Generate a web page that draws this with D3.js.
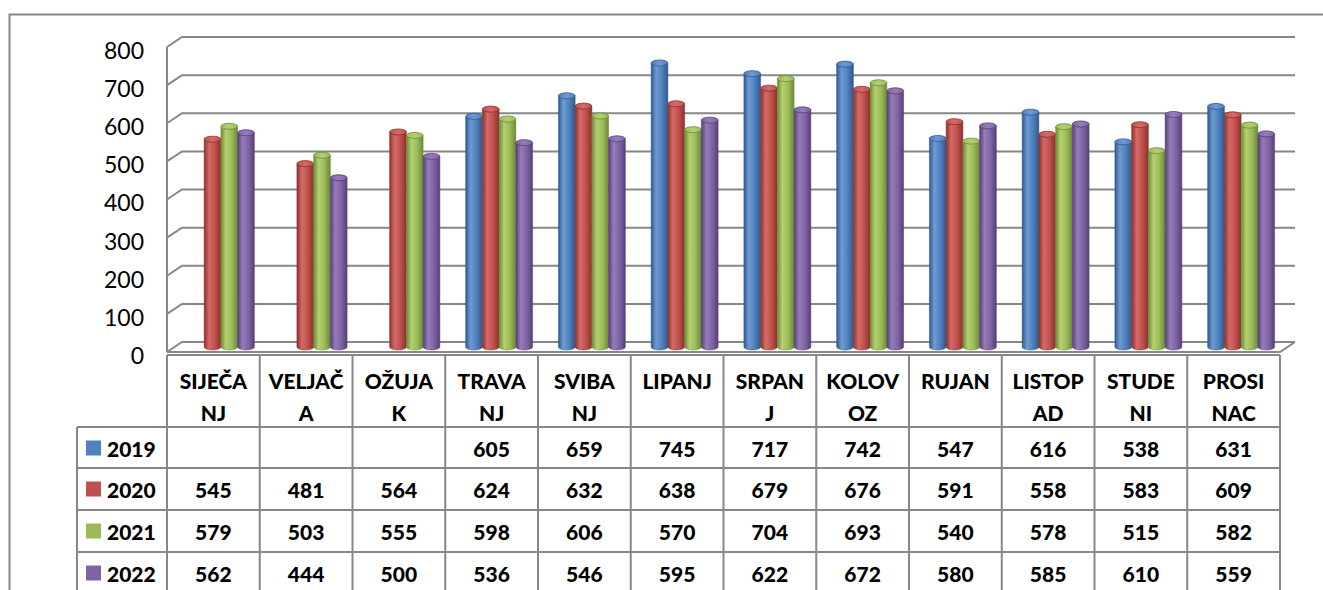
<!DOCTYPE html>
<html>
<head>
<meta charset="utf-8">
<script src="https://cdn.jsdelivr.net/npm/d3@7"></script>
<style>
  body { margin: 0; background: #fff; }
  svg { display: block; font-family: Lato, "Open Sans", sans-serif; }
</style>
</head>
<body>
<div id="chart"></div>
<script>
// podaci
const months = ["SIJEČANJ", "VELJAČA", "OŽUJAK", "TRAVANJ", "SVIBANJ", "LIPANJ",
                "SRPANJ", "KOLOVOZ", "RUJAN", "LISTOPAD", "STUDENI", "PROSINAC"];
const monthLines = [["SIJEČA", "NJ"], ["VELJAČ", "A"], ["OŽUJA", "K"], ["TRAVA", "NJ"],
                    ["SVIBA", "NJ"], ["LIPANJ", ""], ["SRPAN", "J"], ["KOLOV", "OZ"],
                    ["RUJAN", ""], ["LISTOP", "AD"], ["STUDE", "NI"], ["PROSI", "NAC"]];
const years = ["2019", "2020", "2021", "2022"];
const v2019 = [null, null, null, 605, 659, 745, 717, 742, 547, 616, 538, 631];
const v2020 = [545, 481, 564, 624, 632, 638, 679, 676, 591, 558, 583, 609];
const v2021 = [579, 503, 555, 598, 606, 570, 704, 693, 540, 578, 515, 582];
const v2022 = [562, 444, 500, 536, 546, 595, 622, 672, 580, 585, 610, 559];
const yTicks = [0, 100, 200, 300, 400, 500, 600, 700, 800];

const series = [v2019, v2020, v2021, v2022];
const colors = [
  { base: "#4F81BD", light: "#6f9ad3", dark: "#2e5a8e" },
  { base: "#C0504D", light: "#d46b67", dark: "#8c302d" },
  { base: "#9BBB59", light: "#b3d072", dark: "#6c8a35" },
  { base: "#8064A2", light: "#977cba", dark: "#573f78" }
];

const width = 1323, height = 590;
const gridColor = "#878787";
const dx = 15, dy = -10; // dubina 3D zida

const svg = d3.select("#chart").append("svg")
  .attr("width", width)
  .attr("height", height);

// okvir grafikona
svg.append("rect")
  .attr("x", 9.5).attr("y", 14.5)
  .attr("width", 1330).attr("height", 600)
  .attr("fill", "none")
  .attr("stroke", gridColor)
  .attr("stroke-width", 2);

const x = d3.scaleBand().domain(months).range([167, 1280]);
const y = d3.scaleLinear().domain([0, 800]).range([352, 47]);
const xs = d3.scaleBand().domain(years).range([0, x.bandwidth()]).paddingOuter(0.77);

// gradijenti za valjke
const defs = svg.append("defs");
colors.forEach((c, i) => {
  const g = defs.append("linearGradient").attr("id", "body" + i)
    .attr("x1", 0).attr("x2", 1).attr("y1", 0).attr("y2", 0);
  g.append("stop").attr("offset", "0%").attr("stop-color", c.dark);
  g.append("stop").attr("offset", "30%").attr("stop-color", c.light);
  g.append("stop").attr("offset", "65%").attr("stop-color", c.base);
  g.append("stop").attr("offset", "100%").attr("stop-color", c.dark);
  const t = defs.append("linearGradient").attr("id", "cap" + i)
    .attr("x1", 0).attr("x2", 1).attr("y1", 0).attr("y2", 0);
  t.append("stop").attr("offset", "0%").attr("stop-color", c.base);
  t.append("stop").attr("offset", "50%").attr("stop-color", c.light);
  t.append("stop").attr("offset", "100%").attr("stop-color", c.base);
});

// mreža (stražnji i lijevi zid)
const grid = svg.append("g").attr("fill", "none")
  .attr("stroke", gridColor).attr("stroke-width", 2);
grid.selectAll("path.gl")
  .data(yTicks)
  .enter().append("path")
  .attr("class", "gl")
  .attr("d", t => `M${x.range()[0]},${y(t)}L${x.range()[0] + dx},${y(t) + dy}L${x.range()[1] + dx},${y(t) + dy}`);
grid.append("line")
  .attr("x1", x.range()[0]).attr("x2", x.range()[0])
  .attr("y1", y(800)).attr("y2", y(0));
grid.append("path")
  .attr("d", `M${x.range()[1] + dx},${y(0) + dy}L${x.range()[1]},${y(0)}L${x.range()[0]},${y(0)}`);

// os Y
const yAxis = svg.append("g")
  .attr("transform", "translate(144,4)")
  .call(d3.axisLeft(y).tickValues(yTicks).tickSize(0).tickPadding(0));
yAxis.select(".domain").remove();
yAxis.selectAll("text")
  .attr("font-family", "Lato, 'Open Sans', sans-serif")
  .attr("font-size", 23)
  .attr("fill", "#000");

// valjci
const ry = 3;
const bars = [];
series.forEach((vals, si) => {
  vals.forEach((v, mi) => {
    if (v != null) bars.push({ si, mi, v });
  });
});
const barG = svg.append("g");
const cyl = barG.selectAll("g.bar")
  .data(bars)
  .enter().append("g")
  .attr("class", "bar");
cyl.each(function(d) {
  const g = d3.select(this);
  const w = xs.bandwidth();
  const left = x(months[d.mi]) + dx / 2 + xs(years[d.si]);
  const right = left + w;
  const top = y(d.v) + dy / 2;
  const bottom = y(0) + dy / 2;
  const c = colors[d.si];
  g.append("path")
    .attr("d", `M${left},${top}L${left},${bottom}A${w / 2},${ry} 0 0 0 ${right},${bottom}L${right},${top}Z`)
    .attr("fill", `url(#body${d.si})`)
    .attr("stroke", c.dark).attr("stroke-width", 0.5);
  g.append("ellipse")
    .attr("cx", left + w / 2).attr("cy", top)
    .attr("rx", w / 2).attr("ry", ry)
    .attr("fill", `url(#cap${d.si})`)
    .attr("stroke", c.dark).attr("stroke-width", 0.8);
});

// tablica podataka
const rowTops = [427, 468, 510, 552];
const rowH = 42;
const legendLeft = 77;
const table = svg.append("g").attr("stroke", gridColor).attr("stroke-width", 2);
table.append("line")
  .attr("x1", x.range()[0]).attr("x2", x.range()[1])
  .attr("y1", 355).attr("y2", 355);
table.selectAll("line.row")
  .data(rowTops)
  .enter().append("line")
  .attr("class", "row")
  .attr("x1", legendLeft).attr("x2", x.range()[1])
  .attr("y1", d => d).attr("y2", d => d);
table.selectAll("line.col")
  .data(months.map(m => x(m)).concat([x.range()[1]]))
  .enter().append("line")
  .attr("class", "col")
  .attr("x1", d => d).attr("x2", d => d)
  .attr("y1", 355).attr("y2", 600);
table.append("line")
  .attr("x1", legendLeft).attr("x2", legendLeft)
  .attr("y1", rowTops[0]).attr("y2", 600);

const txt = svg.append("g")
  .attr("font-weight", 900)
  .attr("font-size", 21)
  .attr("fill", "#000")
  .attr("text-anchor", "middle")
  .attr("dominant-baseline", "central");

// zaglavlje mjeseci
months.forEach((m, i) => {
  monthLines[i].forEach((line, li) => {
    txt.append("text")
      .attr("x", x(m) + x.bandwidth() / 2)
      .attr("y", 380 + li * 32)
      .text(line);
  });
});

// vrijednosti
series.forEach((vals, si) => {
  vals.forEach((v, mi) => {
    if (v == null) return;
    txt.append("text")
      .attr("x", x(months[mi]) + x.bandwidth() / 2)
      .attr("y", rowTops[si] + rowH / 2)
      .text(v);
  });
});

// legenda u tablici
years.forEach((yr, si) => {
  const cy = rowTops[si] + rowH / 2;
  svg.append("rect")
    .attr("x", 86).attr("y", cy - 7.5)
    .attr("width", 15).attr("height", 15)
    .attr("fill", colors[si].base);
  txt.append("text")
    .attr("x", 107).attr("y", cy)
    .attr("text-anchor", "start")
    .text(yr);
});
</script>
</body>
</html>
